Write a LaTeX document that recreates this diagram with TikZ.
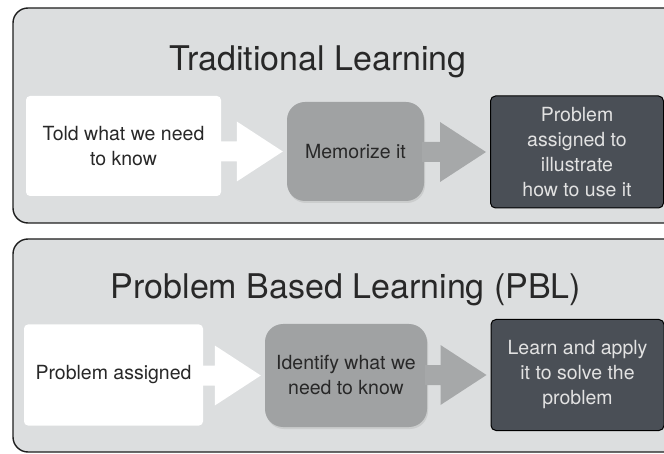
\documentclass[tikz,border=0pt]{standalone}
\usepackage{fontspec}
\setmainfont{TeX Gyre Heros}
\usetikzlibrary{calc,shadows}
\definecolor{panelfill}{HTML}{DCDEDF}
\definecolor{panelline}{HTML}{1E1E1E}
\definecolor{midgray}{HTML}{A0A2A3}
\definecolor{arrowgray}{HTML}{A6A8A9}
\definecolor{darkbox}{HTML}{4A4F56}
\definecolor{txtdark}{HTML}{282828}
\definecolor{txtlight}{HTML}{E2E2E2}
\begin{document}
\begin{tikzpicture}[x=1pt,y=-1pt,
  panel/.style={draw=panelline,line width=1.4pt,fill=panelfill,rounded corners=15pt},
  title/.style={font=\fontsize{34}{40}\selectfont,text=txtdark,inner sep=0pt},
  boxtext/.style={font=\fontsize{19.5}{25}\selectfont,align=center,inner sep=0pt},
  whitebox/.style={boxtext,fill=white,rounded corners=4pt,text=txtdark},
  graybox/.style={boxtext,fill=midgray,rounded corners=18pt,text=txtdark,
    drop shadow={opacity=0.18,shadow xshift=1pt,shadow yshift=-2pt}},
  darkbx/.style={boxtext,fill=darkbox,draw=black,line width=1pt,rounded corners=5pt,text=txtlight},
]
\useasboundingbox (0,0) rectangle (664,454);
\begin{scope}
\clip (0,0) rectangle (664,454);
\draw[panel] (13,8) rectangle (690,223);
\draw[panel] (13,239) rectangle (690,452);

% top panel
\node[title] (t1) at (318,62) {Traditional Learning};
\node[whitebox,minimum width=195pt,minimum height=100pt] (a1) at (123.5,146) {Told what we need\\to know};
\node[graybox,minimum width=137pt,minimum height=99pt] (b1) at (355.5,151.5) {Memorize it};
\node[darkbx,minimum width=173pt,minimum height=112pt] (c1) at (577,152) {Problem\\assigned to\\illustrate\\how to use it};

% bottom panel
\node[title] (t2) at (346,290) {Problem Based Learning (PBL)};
\node[whitebox,minimum width=179pt,minimum height=101pt] (a2) at (113.5,375) {Problem assigned};
\node[graybox,minimum width=162pt,minimum height=103pt] (b2) at (346,375.5) {Identify what we\\need to know};
\node[darkbx,minimum width=173pt,minimum height=111pt] (c2) at (577.5,375) {Learn and apply\\it to solve the\\problem};

% block arrows
\foreach \s/\t/\c in {a1/b1/white,b1/c1/arrowgray,a2/b2/white,b2/c2/arrowgray}{
  \path[fill=\c] let \p1=(\s.east), \p2=(\t.west) in
    ({\x1-2pt},{\y2+10pt}) -- ({\x2-50pt},{\y2+10pt}) -- ({\x2-50pt},{\y2+30pt})
    -- ({\x2-4pt},\y2) -- ({\x2-50pt},{\y2-30pt}) -- ({\x2-50pt},{\y2-10pt})
    -- ({\x1-2pt},{\y2-10pt}) -- cycle;
}
\end{scope}
\end{tikzpicture}
\end{document}
